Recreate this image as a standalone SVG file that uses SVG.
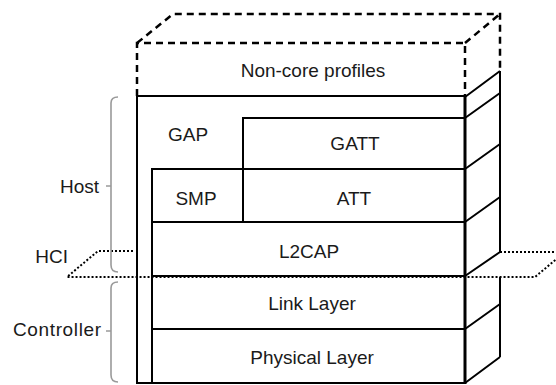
<svg xmlns="http://www.w3.org/2000/svg" width="556" height="385" viewBox="0 0 556 385">
<style>
.t{font-family:"Liberation Sans",Arial,sans-serif;font-size:19px;fill:#1a1a1a;text-anchor:middle}
.l{text-anchor:end}
.b{fill:#fff;stroke:#000;stroke-width:2}
.s{fill:none;stroke:#000;stroke-width:2}
.d{fill:none;stroke:#000;stroke-width:2.5;stroke-dasharray:7 5}
.p{fill:none;stroke:#000;stroke-width:2;stroke-dasharray:2 2}
.br{fill:none;stroke:#9a9a9a;stroke-width:1.6}
</style>
<rect width="556" height="385" fill="#fff"/>
<g id="noncore">
<path class="d" d="M137 96 V43 H465 V96 M137 43 L173 14 H500 V71 M465 43 L500 14"/>
<text class="t" x="313" y="77">Non-core profiles</text>
</g>
<g id="host-frame">
<path class="s" d="M137 96 H465 M137 96 V383 H465"/>
</g>
<g id="gap"><text class="t" x="188" y="141">GAP</text></g>
<g id="gatt"><rect class="b" x="243" y="118" width="222" height="51"/><text class="t" x="355" y="150">GATT</text></g>
<g id="smp"><rect class="b" x="152" y="169" width="91" height="53"/><text class="t" x="196" y="205">SMP</text></g>
<g id="att"><rect class="b" x="243" y="169" width="222" height="53"/><text class="t" x="354" y="205">ATT</text></g>
<g id="l2cap"><rect class="b" x="152" y="222" width="313" height="54"/><text class="t" x="309" y="258">L2CAP</text></g>
<g id="linklayer"><rect class="b" x="152" y="276" width="313" height="53"/><text class="t" x="312" y="310">Link Layer</text></g>
<g id="physical"><rect class="b" x="152" y="329" width="313" height="54"/><text class="t" x="312" y="364">Physical Layer</text></g>
<g id="side">
<path class="s" d="M500 71 V252 M500 277 V357 M465 97 L500 71 M465 118 L500 93 M465 169 L500 144 M465 222 L500 197 M465 276 L500 252 M465 329 L500 304 M465 383 L500 357"/>
<path fill="none" stroke="#000" stroke-width="3" d="M465 96 V384"/>
</g>
<g id="connectors">
<path class="p" d="M133 251 H98 L67 277 H535 L566 251 M500 252 H556"/>
<path class="br" d="M118 97 Q111 97 111 103 V265 Q111 272 118 272 M111 186 H106"/>
<path class="br" d="M118 282 Q111 282 111 288 V375 Q111 382 118 382 M111 331 H106"/>
</g>
<g id="labels">
<text class="t l" x="99" y="193">Host</text>
<text class="t l" x="68" y="263">HCI</text>
<text class="t l" x="101" y="336" textLength="88" lengthAdjust="spacing">Controller</text>
</g>
</svg>
